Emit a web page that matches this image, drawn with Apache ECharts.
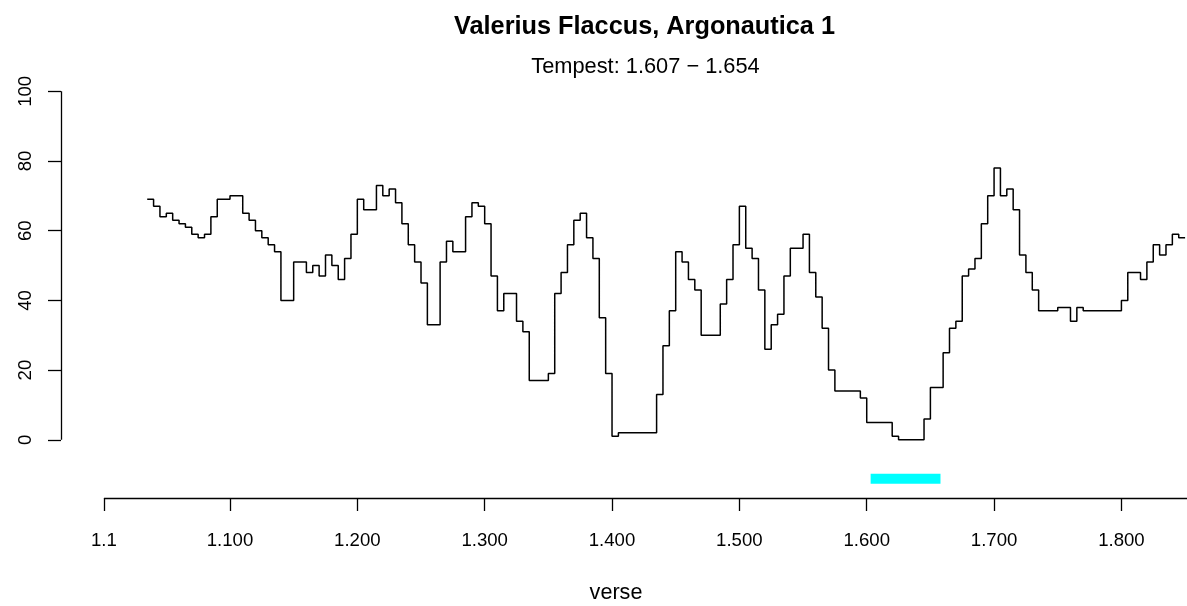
<!DOCTYPE html>
<html><head><meta charset="utf-8">
<script src="https://cdn.jsdelivr.net/npm/echarts@6/dist/echarts.min.js"></script>
<style>html,body{margin:0;padding:0;background:#fff}#c{width:1187px;height:606px}</style>
</head><body><div id="c"></div>
<script>
// ---- data ----
const verses = [35,40,45,50,55,60,65,70,75,80,85,90,95,100,105,110,115,120,125,130,135,140,145,150,155,160,165,170,175,180,185,190,195,200,205,210,215,220,225,230,235,240,245,250,255,260,265,270,275,280,285,290,295,300,305,310,315,320,325,330,335,340,345,350,355,360,365,370,375,380,385,390,395,400,405,410,415,420,425,430,435,440,445,450,455,460,465,470,475,480,485,490,495,500,505,510,515,520,525,530,535,540,545,550,555,560,565,570,575,580,585,590,595,600,605,610,615,620,625,630,635,640,645,650,655,660,665,670,675,680,685,690,695,700,705,710,715,720,725,730,735,740,745,750,755,760,765,770,775,780,785,790,795,800,805,810,815,820,825,830,835,840,845,850];
const scores = [69,67,64,65,63,62,61,59,58,59,64,69,69,70,70,65,63,60,58,56,54,40,40,51,51,48,50,47,53,50,46,52,59,69,66,66,73,70,72,68,62,56,51,45,33,33,51,57,54,54,64,68,67,62,47,37,42,42,34,31,17,17,17,19,42,48,56,63,65,58,52,35,19,1,2,2,2,2,2,2,13,27,37,54,51,46,43,30,30,30,39,46,56,67,55,52,43,26,33,36,47,55,55,59,48,41,32,20,14,14,14,14,12,5,5,5,5,1,0,0,0,0,6,15,15,25,32,34,47,49,52,62,70,78,70,72,66,53,48,43,37,37,37,38,38,34,38,37,37,37,37,37,37,40,48,48,46,51,56,53,56,59,58,58];
const tempestRange = [607, 654];
const tempestLevel = -11.2;
const xTickVerses = [1,100,200,300,400,500,600,700,800];
const yTicks = [0,20,40,60,80,100];
const titleText = 'Valerius Flaccus, Argonautica 1';
const subtitleText = 'Tempest: 1.607 \u2212 1.654';
const xLabel = 'verse';

// ---- scales (R-like usr box) ----
const xMin = -32.7, xMax = 851.5;
const yMin = -16.7, yMax = 104.4;
const FONT = '"Liberation Sans", Arial, Helvetica, sans-serif';

const lineData = verses.map((v, i) => [v, scores[i]]);

const chart = echarts.init(document.getElementById('c'), null, {renderer: 'canvas'});
chart.setOption({
  animation: false,
  backgroundColor: '#ffffff',
  grid: {left: 61, right: 0, top: 76, bottom: 108, containLabel: false},
  xAxis: {
    type: 'value', min: xMin, max: xMax,
    axisLine: {show: false, onZero: false},
    splitLine: {show: false},
    axisTick: {show: true, customValues: xTickVerses, length: 13, inside: false,
      lineStyle: {color: '#000', width: 1.3}},
    axisLabel: {show: true, customValues: xTickVerses, formatter: v => '1.' + v,
      color: '#000', fontSize: 18.6, fontFamily: FONT, margin: 33}
  },
  yAxis: {
    type: 'value', min: yMin, max: yMax,
    axisLine: {show: false, onZero: false},
    splitLine: {show: false},
    axisTick: {show: true, customValues: yTicks, length: 13, inside: false,
      lineStyle: {color: '#000', width: 1.3}},
    axisLabel: {show: true, customValues: yTicks, rotate: 90,
      color: '#000', fontSize: 18.6, fontFamily: FONT, margin: 26}
  },
  graphic: [
    {type: 'text', style: {x: 644.5, y: 27, text: titleText, textAlign: 'center', textVerticalAlign: 'middle',
      font: 'bold 25.3px ' + FONT, fill: '#000'}},
    {type: 'text', style: {x: 645.5, y: 67, text: subtitleText, textAlign: 'center', textVerticalAlign: 'middle',
      font: '21.8px ' + FONT, fill: '#000'}},
    {type: 'text', style: {x: 616, y: 593, text: xLabel, textAlign: 'center', textVerticalAlign: 'middle',
      font: '21.6px ' + FONT, fill: '#000'}}
  ],
  series: [
    {
      type: 'line', step: 'end', data: lineData, symbol: 'none', clip: false,
      lineStyle: {color: '#000', width: 1.5},
      markLine: {
        silent: true, symbol: 'none', label: {show: false},
        lineStyle: {color: '#000', width: 1.3, type: 'solid'},
        data: [
          [{coord: [xTickVerses[0], yMin]}, {coord: [xMax, yMin]}],
          [{coord: [xMin, yTicks[0]]}, {coord: [xMin, yTicks[yTicks.length - 1]]}]
        ]
      }
    },
    {
      type: 'line', data: [[tempestRange[0], tempestLevel], [tempestRange[1], tempestLevel]],
      symbol: 'none', clip: false,
      lineStyle: {color: '#00FFFF', width: 10, cap: 'square'}
    }
  ]
});
</script>
</body></html>
